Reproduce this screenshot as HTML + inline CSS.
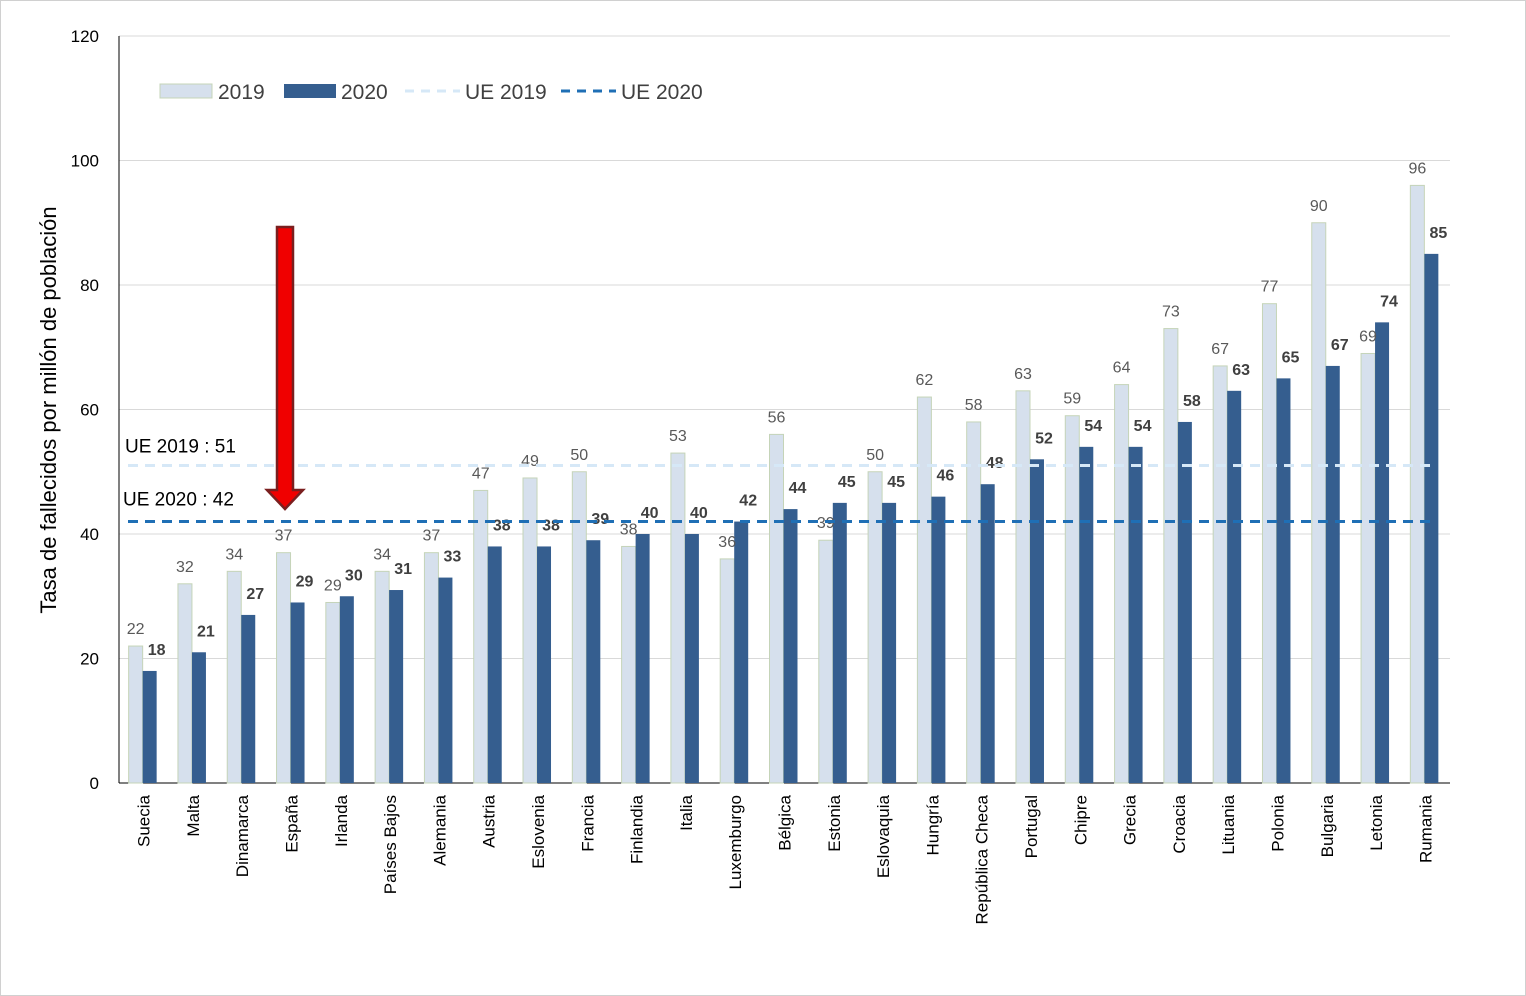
<!DOCTYPE html>
<html><head><meta charset="utf-8"><style>
body{margin:0;background:#fff}
svg{display:block;font-family:"Liberation Sans",sans-serif}
</style></head><body>
<svg id="chart" width="1526" height="996" viewBox="0 0 1526 996">
<rect x="0.5" y="0.5" width="1525" height="995" fill="#fff" stroke="#d0d0d0"/>
<g id="grid"></g><g id="bars"></g><g id="labels"></g>
</svg>
<script>
const categories=["Suecia","Malta","Dinamarca","España","Irlanda","Países Bajos","Alemania","Austria","Eslovenia","Francia","Finlandia","Italia","Luxemburgo","Bélgica","Estonia","Eslovaquia","Hungría","República Checa","Portugal","Chipre","Grecia","Croacia","Lituania","Polonia","Bulgaria","Letonia","Rumania"];
const values2019=[22,32,34,37,29,34,37,47,49,50,38,53,36,56,39,50,62,58,63,59,64,73,67,77,90,69,96];
const values2020=[18,21,27,29,30,31,33,38,38,39,40,40,42,44,45,45,46,48,52,54,54,58,63,65,67,74,85];
const yTicks=[0,20,40,60,80,100,120];
const eu2019=51, eu2020=42;
const NS="http://www.w3.org/2000/svg";
const svg=document.getElementById('chart');
const X0=119,X1=1450,Y0=783,Y1=36;
const y=v=>Y0-(v/120)*(Y0-Y1);
const bw=(X1-X0)/categories.length;
const cx=i=>X0+bw*(i+0.5);
function mk(tag,attrs,parent,text){const e=document.createElementNS(NS,tag);for(const k in attrs)e.setAttribute(k,attrs[k]);if(text!==undefined)e.textContent=text;(parent||svg).appendChild(e);return e;}
const grid=document.getElementById('grid'),bars=document.getElementById('bars'),labels=document.getElementById('labels');
yTicks.forEach(t=>{
  if(t>0){const l=mk('line',{x1:X0,x2:X1,y1:y(t),y2:y(t),stroke:'#d9d9d9','stroke-width':1},grid);
  
  }
  const tx=mk('text',{x:99,y:y(t)+6,'text-anchor':'end','font-size':17,fill:'#000'},grid,String(t));
  
  
});
const ax=mk('line',{x1:X0,x2:X0,y1:Y1,y2:Y0,stroke:'#000','stroke-width':1},grid);


const xa=mk('line',{x1:X0,x2:X1,y1:Y0,y2:Y0,stroke:'#000','stroke-width':1},grid);


const yt=mk('text',{x:0,y:0,transform:'translate(56,410) rotate(-90)','text-anchor':'middle','font-size':22,fill:'#000'},grid,'Tasa de fallecidos por millón de población');


categories.forEach((c,i)=>{
  const c0=cx(i);
  const b1=mk('rect',{x:c0-15,y:y(values2019[i]),width:14,height:Y0-y(values2019[i]),fill:'#d6e0ed',stroke:'#c5d4b8','stroke-width':1},bars);
  
  
  const b2=mk('rect',{x:c0-1,y:y(values2020[i]),width:14,height:Y0-y(values2020[i]),fill:'#355e8f'},bars);
  
  
  const l1=mk('text',{x:c0-8,y:y(values2019[i])-12,'text-anchor':'middle','font-size':16,fill:'#595959'},labels,String(values2019[i]));
  
  
  const l2=mk('text',{x:c0+13,y:y(values2020[i])-16,'text-anchor':'middle','font-size':16,'font-weight':'bold',fill:'#404040'},labels,String(values2020[i]));
  
  
  const cl=mk('text',{x:0,y:0,transform:`translate(${c0+6},795) rotate(-90)`,'text-anchor':'end','font-size':17,fill:'#000'},labels,c);
  
  
});
const e1=mk('line',{x1:128,x2:1430,y1:y(eu2019),y2:y(eu2019),stroke:'#d6e8f7','stroke-width':3,'stroke-dasharray':'10 7'},labels);


const e2=mk('line',{x1:128,x2:1430,y1:y(eu2020),y2:y(eu2020),stroke:'#1f6fb5','stroke-width':3,'stroke-dasharray':'10 7'},labels);


const t1=mk('text',{x:125,y:y(eu2019)-13,'font-size':19,fill:'#000'},labels,'UE 2019 : '+eu2019);


const t2=mk('text',{x:123,y:y(eu2020)-16,'font-size':19,fill:'#000'},labels,'UE 2020 : '+eu2020);


const ar=mk('polygon',{points:'277,227 293,227 293,490 303,490 285,509 267,490 277,490',fill:'#f00000',stroke:'#7a1f1f','stroke-width':2.5},labels);


const lg=mk('g',{},labels);


const r1=mk('rect',{x:160,y:84,width:52,height:14,fill:'#d6e0ed',stroke:'#c5d4b8'},lg);


const lt1=mk('text',{x:218,y:99,'font-size':21,fill:'#404040'},lg,'2019');


const r2=mk('rect',{x:284,y:84,width:52,height:14,fill:'#355e8f'},lg);


const lt2=mk('text',{x:341,y:99,'font-size':21,fill:'#404040'},lg,'2020');


const ll1=mk('line',{x1:405,x2:460,y1:91,y2:91,stroke:'#d6e8f7','stroke-width':3,'stroke-dasharray':'9 7'},lg);


const lt3=mk('text',{x:465,y:99,'font-size':21,fill:'#404040'},lg,'UE 2019');


const ll2=mk('line',{x1:561,x2:616,y1:91,y2:91,stroke:'#1f6fb5','stroke-width':3,'stroke-dasharray':'9 7'},lg);


const lt4=mk('text',{x:621,y:99,'font-size':21,fill:'#404040'},lg,'UE 2020');


</script>
</body></html>
